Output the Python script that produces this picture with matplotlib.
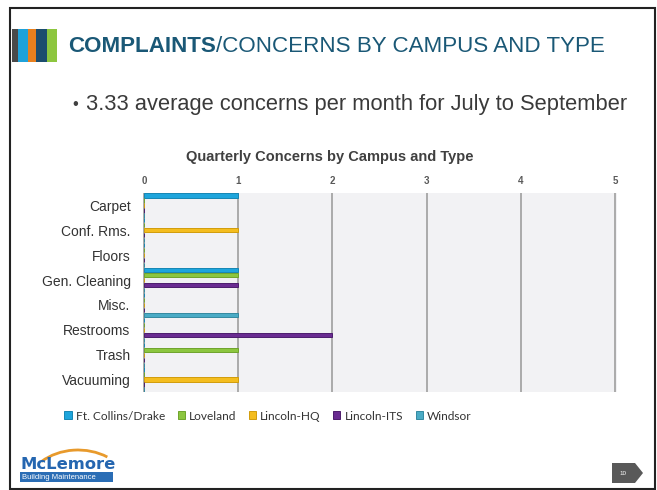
import numpy as np
from matplotlib import pyplot as plt
from matplotlib.patches import Rectangle, Polygon, Arc

# data
categories = ['Carpet', 'Conf. Rms.', 'Floors', 'Gen. Cleaning', 'Misc.', 'Restrooms', 'Trash', 'Vacuuming']
campuses = ['Ft. Collins/Drake', 'Loveland', 'Lincoln-HQ', 'Lincoln-ITS', 'Windsor']
ft_collins = [1, 0, 0, 1, 0, 0, 0, 0]
loveland = [0, 0, 0, 1, 0, 0, 1, 0]
lincoln_hq = [0, 1, 0, 0, 0, 0, 0, 1]
lincoln_its = [0, 0, 0, 1, 0, 2, 0, 0]
windsor = [0, 0, 0, 0, 1, 0, 0, 0]
x_ticks = [0, 1, 2, 3, 4, 5]

colors = ['#1ea5dc', '#8cc63f', '#f4bd1e', '#6a2c91', '#4aabc5']
edges = ['#1686b4', '#6fa42c', '#d19d0b', '#4d1d6d', '#3489a0']

plt.rcParams['font.family'] = ['Liberation Sans', 'DejaVu Sans']

W, H = 657, 490
fig = plt.figure(figsize=(W / 100, H / 100), dpi=100)

# slide decoration layer in pixel coords
bg = fig.add_axes([0, 0, 1, 1], zorder=0)
bg.set_xlim(0, W)
bg.set_ylim(H, 0)
bg.axis('off')
bg.add_patch(Rectangle((10, 8), 645, 481, fill=False, edgecolor='#222222', linewidth=1.5))

stripes = [(12, 18, '#4a4a4a'), (18, 28, '#1fa2da'), (28, 36, '#e8801f'), (36, 47, '#1c4d6e'), (47, 57, '#8dc63f')]
for x0, x1, c in stripes:
    bg.add_patch(Rectangle((x0, 29), x1 - x0, 33, color=c, linewidth=0))

# slide title, sized so it spans the same width as on the slide
t1 = bg.text(68, 47, 'COMPLAINTS', fontsize=20, fontweight='bold', color='#1a5876', va='center', ha='left')
t2 = bg.text(68, 47, '/CONCERNS BY CAMPUS AND TYPE', fontsize=20, color='#1a5876', va='center', ha='left')
fig.canvas.draw()
r = fig.canvas.get_renderer()
total = t1.get_window_extent(r).width + t2.get_window_extent(r).width
fs = 20 * 537 / total
t1.set_fontsize(fs)
t2.set_fontsize(fs)
fig.canvas.draw()
t2.set_x(68 + t1.get_window_extent(r).width)

bg.text(72, 104, '\u2022', fontsize=12, color='#404040', va='center', ha='left')
bg.text(86, 104, '3.33 average concerns per month for July to September', fontsize=15.75,
        color='#3a3a3a', va='center', ha='left')

bg.text(330, 157, 'Quarterly Concerns by Campus and Type', fontsize=10.5, fontweight='bold',
        color='#404040', va='center', ha='center')

# logo
bg.add_patch(Arc((78, 492), 106, 84, theta1=220, theta2=310, color='#e89a2c', linewidth=2))
bg.text(21, 464, 'McLemore', fontsize=11.8, fontweight='bold', family=['DejaVu Sans'],
        color='#2566b0', va='center', ha='left')
bg.add_patch(Rectangle((20, 472), 93, 10, color='#2a6db5', linewidth=0))
bg.text(22, 477.5, 'Building Maintenance', fontsize=5.5, color='white', va='center', ha='left')

# page number tag
bg.add_patch(Polygon([(612, 463), (635, 463), (643, 473), (635, 483), (612, 483)],
                     closed=True, color='#595959', linewidth=0))
bg.text(623, 473, '10', fontsize=4.5, color='white', va='center', ha='center')

# chart
ax = fig.add_axes([143 / W, 1 - 392 / H, (617 - 143) / W, (392 - 193) / H], zorder=1)
ax.set_facecolor('#f2f2f4')
series = [ft_collins, loveland, lincoln_hq, lincoln_its, windsor]
y = np.arange(len(categories))
slot = 0.2
for j, vals in enumerate(series):
    ax.barh(y + (j - 2) * slot, vals, height=0.17, color=colors[j], edgecolor=edges[j],
            linewidth=0.7, label=campuses[j], zorder=3)

ax.set_ylim(len(categories) - 0.5, -0.5)
ax.set_xlim(-0.01, 5.02)
ax.set_xticks(x_ticks)
ax.xaxis.tick_top()
ax.tick_params(axis='x', length=0, pad=5, labelsize=7, labelcolor='#595959')
for lab in ax.get_xticklabels():
    lab.set_fontweight('bold')
ax.set_yticks(y)
ax.set_yticklabels(categories)
ax.tick_params(axis='y', length=0, pad=9, labelsize=10, labelcolor='#333333')
ax.grid(axis='x', color='#ababab', linewidth=1.4, zorder=1)
for s in ax.spines.values():
    s.set_visible(False)

handles, labels = ax.get_legend_handles_labels()
leg = fig.legend(handles, labels, loc='center', bbox_to_anchor=(268 / W, 1 - 416 / H), ncol=5,
                 frameon=False, handlelength=0.6, handleheight=0.6,
                 handletextpad=0.35, columnspacing=1.05, prop={'family': ['Lato', 'DejaVu Sans'], 'size': 8.6})
for t in leg.get_texts():
    t.set_color('#333333')

fig.savefig('out.png', dpi=100)
